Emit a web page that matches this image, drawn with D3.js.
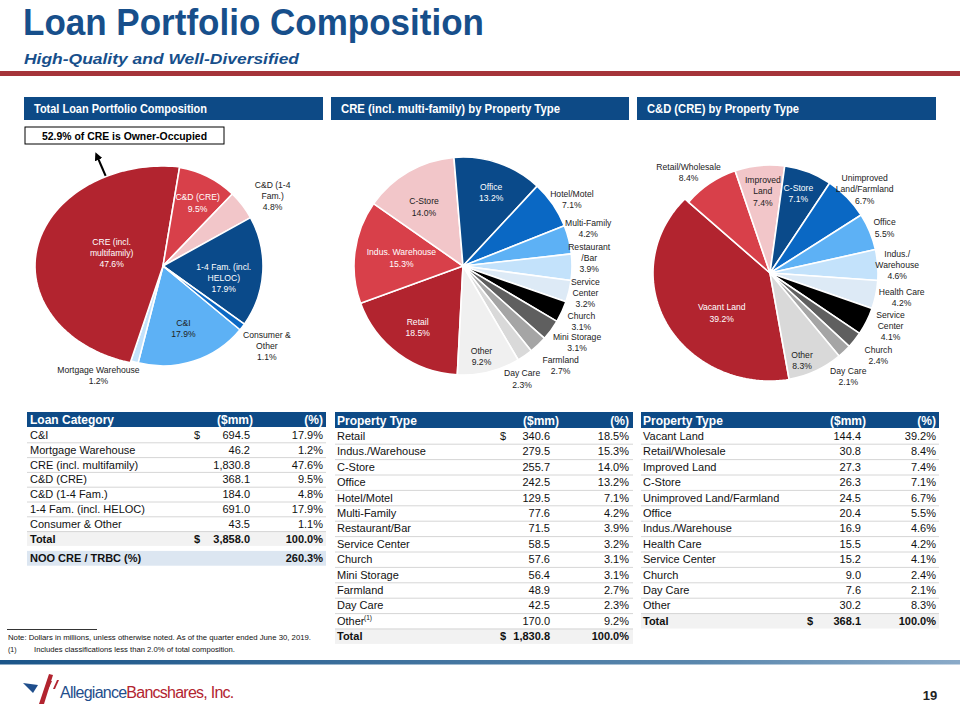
<!DOCTYPE html>
<html><head><meta charset="utf-8">
<script src="https://cdn.jsdelivr.net/npm/d3@7"></script>
<style>body{margin:0;background:#fff}svg{display:block}text{font-family:"Liberation Sans",Arial,Helvetica,sans-serif}</style>
</head><body><svg id="c" width="960" height="720"></svg>
<script>
// ---------------- DATA ----------------
const loanCategories = ["C&I","Mortgage Warehouse","CRE (incl. multifamily)","C&D (CRE)","C&D (1-4 Fam.)","1-4 Fam. (incl. HELOC)","Consumer & Other"];
const loanValues = [694.5,46.2,1830.8,368.1,184.0,691.0,43.5];
const loanPct = ["17.9%","1.2%","47.6%","9.5%","4.8%","17.9%","1.1%"];
const loanPieLabels = ["C&I\n17.9%","Mortgage Warehouse\n1.2%","CRE (incl.\nmultifamily)\n47.6%","C&D (CRE)\n9.5%","C&D (1-4\nFam.)\n4.8%","1-4 Fam. (incl.\nHELOC)\n17.9%","Consumer &\nOther\n1.1%"];
const loanTotal = ["3,858.0","100.0%"];
const nooRatio = "260.3%";

const creTypes = ["Retail","Indus./Warehouse","C-Store","Office","Hotel/Motel","Multi-Family","Restaurant/Bar","Service Center","Church","Mini Storage","Farmland","Day Care","Other"];
const creValues = [340.6,279.5,255.7,242.5,129.5,77.6,71.5,58.5,57.6,56.4,48.9,42.5,170.0];
const crePct = ["18.5%","15.3%","14.0%","13.2%","7.1%","4.2%","3.9%","3.2%","3.1%","3.1%","2.7%","2.3%","9.2%"];
const crePieLabels = ["Retail\n18.5%","Indus. Warehouse\n15.3%","C-Store\n14.0%","Office\n13.2%","Hotel/Motel\n7.1%","Multi-Family\n4.2%","Restaurant\n/Bar\n3.9%","Service\nCenter\n3.2%","Church\n3.1%","Mini Storage\n3.1%","Farmland\n2.7%","Day Care\n2.3%","Other\n9.2%"];
const creTotal = ["1,830.8","100.0%"];

const cndTypes = ["Vacant Land","Retail/Wholesale","Improved Land","C-Store","Unimproved Land/Farmland","Office","Indus./Warehouse","Health Care","Service Center","Church","Day Care","Other"];
const cndValues = [144.4,30.8,27.3,26.3,24.5,20.4,16.9,15.5,15.2,9.0,7.6,30.2];
const cndPct = ["39.2%","8.4%","7.4%","7.1%","6.7%","5.5%","4.6%","4.2%","4.1%","2.4%","2.1%","8.3%"];
const cndPieLabels = ["Vacant Land\n39.2%","Retail/Wholesale\n8.4%","Improved\nLand\n7.4%","C-Store\n7.1%","Unimproved\nLand/Farmland\n6.7%","Office\n5.5%","Indus./\nWarehouse\n4.6%","Health Care\n4.2%","Service\nCenter\n4.1%","Church\n2.4%","Day Care\n2.1%","Other\n8.3%"];
const cndTotal = ["368.1","100.0%"];

// ---------------- STYLE ----------------
const NAVY="#0D4A86", TITLE="#174F8B";
const C = {dred:"#B2242F",red:"#D8404A",pink:"#F2C6C9",navy:"#0A4A8A",blue:"#0A68C4",lblue:"#5DB1F5",pale:"#C3E2FB",vpale:"#DDEAF6",black:"#000",dgrey:"#5F5F5F",mgrey:"#A5A5A5",lgrey:"#D9D9D9",vlgrey:"#F0F0F0"};
const loanColors=[C.lblue,C.pale,C.dred,C.red,C.pink,C.navy,C.blue];
const creColors=[C.dred,C.red,C.pink,C.navy,C.blue,C.lblue,C.pale,C.vpale,C.black,C.dgrey,C.mgrey,C.lgrey,C.vlgrey];
const cndColors=[C.dred,C.red,C.pink,C.navy,C.blue,C.lblue,C.pale,C.vpale,C.black,C.dgrey,C.mgrey,C.lgrey];
const loanLabelWhite=[0,0,1,1,0,1,0];
const creLabelWhite=[1,1,0,1,0,0,0,0,0,0,0,0,0];
const cndLabelWhite=[1,0,0,1,0,0,0,0,0,0,0,0];
// label placement: [radius factor, angle shift (deg)]
const loanLabelPos=[[0.66,0],[1.27,14],[0.53,0],[0.72,2],[1.3,5],[0.62,8],[1.31,0]];
const creLabelPos=[[0.70,0],[0.57,0],[0.65,-3.5],[0.72,2],[1.17,3],[1.2,-2.8],[1.16,-4.3],[1.15,-1],[1.2,0.4],[1.26,-2.2],[1.28,-0.8],[1.17,7],[0.85,2.2]];
const cndLabelPos=[[0.58,-10],[1.2,-5],[0.76,0.5],[0.78,-1],[1.17,3],[1.14,1],[1.18,0.6],[1.24,-1],[1.22,-2.8],[1.26,-1.2],[1.2,6.3],[0.86,4.8]];

const svg=d3.select("#c");
const defs=svg.append("defs");
const grad=defs.append("linearGradient").attr("id","bar").attr("x1","0").attr("x2","1");
grad.append("stop").attr("offset","0").attr("stop-color","#1B5589");
grad.append("stop").attr("offset","0.73").attr("stop-color","#5A87AD");
grad.append("stop").attr("offset","1").attr("stop-color","#8AAAC8");
defs.append("marker").attr("id","ah").attr("viewBox","0 0 10 10").attr("refX",5).attr("refY",5)
  .attr("markerWidth",4).attr("markerHeight",4).attr("orient","auto")
  .append("path").attr("d","M0,0L10,5L0,10z").attr("fill","#000");

// ---------------- TITLE ----------------
svg.append("text").attr("x",23).attr("y",35).attr("font-size",37).attr("font-weight","bold").attr("fill",TITLE)
  .attr("textLength",461).attr("lengthAdjust","spacingAndGlyphs").text("Loan Portfolio Composition");
svg.append("text").attr("x",24).attr("y",64).attr("font-size",15).attr("font-weight","bold").attr("font-style","italic").attr("fill",TITLE)
  .attr("textLength",275).attr("lengthAdjust","spacingAndGlyphs").text("High-Quality and Well-Diversified");
svg.append("rect").attr("x",0).attr("y",71).attr("width",960).attr("height",5).attr("fill","#A5343A");

// panel headers
const panels=[{x:24,w:299,t:"Total Loan Portfolio Composition",tl:173},{x:331,w:298,t:"CRE (incl. multi-family) by Property Type",tl:219},{x:637,w:299,t:"C&D (CRE) by Property Type",tl:152}];
panels.forEach(p=>{
  svg.append("rect").attr("x",p.x).attr("y",97).attr("width",p.w).attr("height",23).attr("fill",NAVY);
  svg.append("text").attr("x",p.x+10).attr("y",113).attr("font-size",12).attr("font-weight","bold").attr("fill","#fff")
    .attr("textLength",p.tl).attr("lengthAdjust","spacingAndGlyphs").text(p.t);
});

// annotation
svg.append("rect").attr("x",25).attr("y",127).attr("width",199).attr("height",17).attr("fill","#fff").attr("stroke","#000").attr("stroke-width",1);
svg.append("text").attr("x",124.5).attr("y",139.5).attr("text-anchor","middle").attr("font-size",11).attr("font-weight","bold").attr("fill","#000")
  .attr("textLength",165).attr("lengthAdjust","spacingAndGlyphs").text("52.9% of CRE is Owner-Occupied");
svg.append("line").attr("x1",107).attr("y1",179).attr("x2",97).attr("y2",156).attr("stroke","#000").attr("stroke-width",2).attr("marker-end","url(#ah)");

// ---------------- PIES ----------------
function drawPie(cfg){
  const g=svg.append("g").attr("transform",`translate(${cfg.cx},${cfg.cy})`);
  const s=cfg.start*Math.PI/180;
  const arcs=d3.pie().sort(null).value(d=>d).startAngle(s).endAngle(s+2*Math.PI)(cfg.values);
  const arc=d3.arc().innerRadius(0).outerRadius(cfg.r);
  const bulge=(d)=>{
    const pts=[[0,0]];const n=80;
    for(let k=0;k<=n;k++){const t=d.startAngle+(d.endAngle-d.startAngle)*k/n;
      const rr=1/Math.sqrt((Math.sin(t)/cfg.bulge.rx)**2+(Math.cos(t)/cfg.bulge.ry)**2);pts.push([t,rr]);}
    return d3.lineRadial()(pts)+"Z";
  };
  g.selectAll("path").data(arcs).join("path")
    .attr("d",(d,i)=>cfg.bulge&&i===cfg.bulge.index?bulge(d):arc(d))
    .attr("fill",(d,i)=>cfg.colors[i]).attr("stroke","#fff").attr("stroke-width",1.6).attr("stroke-linejoin","round");
  const lh=11.3;
  g.selectAll("text").data(arcs).join("text")
    .attr("font-size",8.6).attr("text-anchor","middle")
    .attr("fill",(d,i)=>cfg.white[i]?"#fff":"#222")
    .each(function(d,i){
      const [f,sh]=cfg.pos[i];
      const a=(d.startAngle+d.endAngle)/2+sh*Math.PI/180;
      const x=Math.sin(a)*cfg.r*f, y=-Math.cos(a)*cfg.r*f;
      const lines=cfg.labels[i].split("\n");
      const y0=y-(lines.length-1)*lh/2+3;
      d3.select(this).selectAll("tspan").data(lines).join("tspan")
        .attr("x",x).attr("y",(l,j)=>y0+j*lh).text(l=>l);
    });
}
drawPie({cx:163,cy:266,r:100,start:129.6,values:loanValues,colors:loanColors,labels:loanPieLabels,white:loanLabelWhite,pos:loanLabelPos,bulge:{index:2,rx:128,ry:100}});
drawPie({cx:463,cy:266,r:109,start:183,values:creValues,colors:creColors,labels:crePieLabels,white:creLabelWhite,pos:creLabelPos});
drawPie({cx:770,cy:273,r:108,start:169.8,values:cndValues,colors:cndColors,labels:cndPieLabels,white:cndLabelWhite,pos:cndLabelPos,bulge:{index:0,rx:117,ry:108}});

// ---------------- TABLES ----------------
const fmt=d3.format(",.1f");
function drawTable(t){
  const g=svg.append("g");
  g.append("rect").attr("x",t.x0).attr("y",t.hy).attr("width",t.x1-t.x0).attr("height",t.hh).attr("fill",NAVY);
  const hb=t.hy+t.hh/2+4.5;
  g.append("text").attr("x",t.lx).attr("y",hb).attr("font-size",12).attr("font-weight","bold").attr("fill","#fff").text(t.head);
  g.append("text").attr("x",t.mhx).attr("y",hb).attr("text-anchor","end").attr("font-size",12).attr("font-weight","bold").attr("fill","#fff").text("($mm)");
  g.append("text").attr("x",t.px).attr("y",hb).attr("text-anchor","end").attr("font-size",12).attr("font-weight","bold").attr("fill","#fff").text("(%)");
  const rows=t.names.map((n,i)=>({n,v:fmt(t.values[i]),p:t.pct[i]}));
  const n=rows.length;
  g.append("rect").attr("x",t.x0).attr("y",t.ry+n*t.rh).attr("width",t.x1-t.x0).attr("height",t.rh).attr("fill","#F2F2F2");
  g.selectAll("line.sep").data(d3.range(1,n+1)).join("line").attr("class","sep")
    .attr("x1",t.x0).attr("x2",t.x1).attr("y1",i=>t.ry+i*t.rh+0.5).attr("y2",i=>t.ry+i*t.rh+0.5)
    .attr("stroke","#D6D6D6").attr("stroke-width",1);
  const rg=g.selectAll("g.r").data(rows).join("g").attr("class","r")
    .attr("transform",(d,i)=>`translate(0,${t.ry+i*t.rh+t.rh/2+4})`);
  rg.append("text").attr("x",t.lx).attr("font-size",11).attr("fill","#111").text(d=>d.n);
  rg.append("text").attr("x",t.vx).attr("text-anchor","end").attr("font-size",11).attr("fill","#111").text(d=>d.v);
  rg.append("text").attr("x",t.px).attr("text-anchor","end").attr("font-size",11).attr("fill","#111").text(d=>d.p);
  if(t.firstDollar) g.append("text").attr("x",t.dx).attr("y",t.ry+t.rh/2+4).attr("font-size",11).attr("fill","#111").text("$");
  if(t.supIndex!=null){
    const i=t.supIndex;
    g.append("text").attr("x",t.lx+27).attr("y",t.ry+i*t.rh+t.rh/2-1).attr("font-size",6.5).attr("fill","#111").text("(1)");
  }
  const ty=t.ry+n*t.rh+t.rh/2+4;
  g.append("text").attr("x",t.lx).attr("y",ty).attr("font-size",11).attr("font-weight","bold").attr("fill","#111").text("Total");
  g.append("text").attr("x",t.dx).attr("y",ty).attr("font-size",11).attr("font-weight","bold").attr("fill","#111").text("$");
  g.append("text").attr("x",t.vx).attr("y",ty).attr("text-anchor","end").attr("font-size",11).attr("font-weight","bold").attr("fill","#111").text(t.total[0]);
  g.append("text").attr("x",t.px).attr("y",ty).attr("text-anchor","end").attr("font-size",11).attr("font-weight","bold").attr("fill","#111").text(t.total[1]);
  if(t.noo){
    const y=t.ry+(n+1)*t.rh+5;
    g.append("rect").attr("x",t.x0).attr("y",y).attr("width",t.x1-t.x0).attr("height",t.rh).attr("fill","#DCE6F1");
    g.append("text").attr("x",t.lx).attr("y",y+t.rh/2+4).attr("font-size",11).attr("font-weight","bold").attr("fill","#111").text("NOO CRE / TRBC (%)");
    g.append("text").attr("x",t.px).attr("y",y+t.rh/2+4).attr("text-anchor","end").attr("font-size",11).attr("font-weight","bold").attr("fill","#111").text(t.noo);
  }
}
drawTable({x0:27,x1:326,hy:412,hh:15,ry:427.5,rh:14.8,lx:30,dx:194,vx:250,mhx:253,px:323,head:"Loan Category",
  names:loanCategories,values:loanValues,pct:loanPct,total:loanTotal,firstDollar:true,noo:nooRatio});
drawTable({x0:335,x1:633,hy:412,hh:16,ry:428.3,rh:15.4,lx:337,dx:500,vx:550,mhx:559,px:629,head:"Property Type",
  names:creTypes,values:creValues,pct:crePct,total:creTotal,firstDollar:true,supIndex:12});
drawTable({x0:641,x1:939,hy:412,hh:16,ry:428.3,rh:15.4,lx:643,dx:807,vx:861,mhx:866,px:936,head:"Property Type",
  names:cndTypes,values:cndValues,pct:cndPct,total:cndTotal,firstDollar:false});

// ---------------- FOOTER ----------------
svg.append("line").attr("x1",7).attr("x2",97).attr("y1",629.5).attr("y2",629.5).attr("stroke","#000").attr("stroke-width",0.8);
svg.append("text").attr("x",8).attr("y",640).attr("font-size",7).attr("fill","#111")
  .attr("textLength",303).attr("lengthAdjust","spacingAndGlyphs")
  .text("Note:  Dollars in millions, unless otherwise noted.  As of the quarter  ended June 30, 2019.");
svg.append("text").attr("x",8).attr("y",652).attr("font-size",7).attr("fill","#111").text("(1)");
svg.append("text").attr("x",34).attr("y",652).attr("font-size",7).attr("fill","#111")
  .attr("textLength",201).attr("lengthAdjust","spacingAndGlyphs")
  .text("Includes classifications less than 2.0% of total composition.");
svg.append("rect").attr("x",0).attr("y",660).attr("width",960).attr("height",4.5).attr("fill","url(#bar)");

// logo
const lg=svg.append("g");
lg.append("path").attr("d","M23,683 L38,685 L33,693 Z").attr("fill","#1F4E8C");
lg.append("path").attr("d","M39,704 L44,704 L53,675 L49,674 Z").attr("fill","#B2242F");
lg.append("path").attr("d","M45,691 L47.5,691 L52,681 L50,681 Z").attr("fill","#B2242F");
lg.append("path").attr("d","M53,689 L55,689 L59,680 L57,680 Z").attr("fill","#B2242F");
const lt=lg.append("text").attr("x",60).attr("y",698).attr("font-size",16).attr("letter-spacing",-0.75);
lt.append("tspan").attr("fill","#1F4E8C").text("Allegiance");
lt.append("tspan").attr("fill","#B2242F").text("Bancshares, Inc.");
svg.append("text").attr("x",930).attr("y",700).attr("text-anchor","middle").attr("font-size",13).attr("font-weight","bold").attr("fill","#222").text("19");
</script></body></html>
